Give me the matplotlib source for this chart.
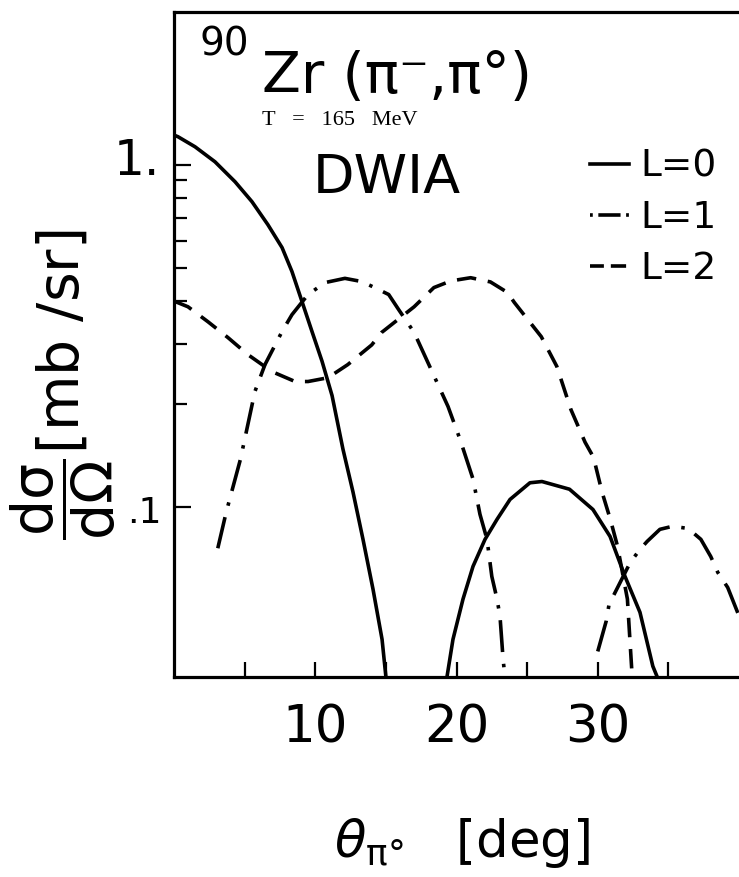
"""
plot.py

Redraw of an old DWIA figure: 90Zr(pi-,pi0) at T = 165 MeV,
angular distributions for L = 0, 1, 2 transfers (log scale).
"""

import matplotlib
matplotlib.use('Agg')
import matplotlib.pyplot as plt
from matplotlib.lines import Line2D
from matplotlib.ticker import FixedLocator, NullFormatter
from matplotlib.transforms import offset_copy

# values: angle [deg] and dsigma/dOmega [mb/sr]
l0_ang_1 = [0.0, 0.28, 1.49, 2.90, 4.32, 5.52, 6.65, 7.65, 8.35, 9.06, 9.77, 10.48,
            11.19, 11.96, 12.67, 13.38, 14.09, 14.73, 15.0, 15.2]
l0_xs_1 = [1.22, 1.207, 1.128, 1.02, 0.892, 0.780, 0.668, 0.573, 0.488, 0.399, 0.326,
           0.267, 0.212, 0.148, 0.111, 0.0807, 0.0577, 0.0412, 0.0321, 0.028]

l0_ang_2 = [19.2, 19.33, 19.75, 20.46, 21.17, 22.02, 22.87, 23.79, 25.2, 26.05, 28.0,
            29.66, 30.87, 31.93, 32.99, 33.9, 34.2, 34.35]
l0_xs_2 = [0.028, 0.0321, 0.0412, 0.054, 0.0673, 0.0807, 0.0923, 0.1055, 0.118, 0.119,
           0.113, 0.0986, 0.0823, 0.0629, 0.0494, 0.0344, 0.0321, 0.029]

l1_ang_1 = [3.1, 3.7, 4.7, 5.73, 6.44, 7.65, 8.35, 9.49, 10.7, 12.1, 13.3, 14.2, 15.2,
            15.9, 17.0, 18.1, 19.4, 20.25, 21.17, 21.66, 22.16, 22.5, 22.87, 23.08,
            23.3, 23.43, 23.5]
l1_xs_1 = [0.076, 0.097, 0.138, 0.218, 0.261, 0.326, 0.365, 0.418, 0.453, 0.466, 0.456,
           0.438, 0.418, 0.378, 0.324, 0.258, 0.197, 0.158, 0.121, 0.0955, 0.0807,
           0.0629, 0.054, 0.0481, 0.036, 0.032, 0.029]

l1_ang_2 = [30.0, 30.6, 30.8, 32.3, 33.0, 33.5, 34.4, 35.3, 36.4, 37.3, 38.0, 38.5,
            39.2, 39.9, 40.3]
l1_xs_2 = [0.038, 0.0466, 0.0521, 0.0691, 0.0755, 0.0796, 0.0863, 0.0881, 0.0868,
           0.0807, 0.0719, 0.0646, 0.0584, 0.0494, 0.045]

l2_ang = [0.0, 0.99, 2.41, 3.82, 5.24, 6.94, 8.57, 9.49, 10.9, 12.3, 14.0, 14.7, 17.0,
          18.4, 19.6, 21.0, 22.4, 23.6, 24.1, 26.0, 27.1, 28.1, 29.1, 29.7, 30.3, 30.9,
          31.4, 32.1, 32.4, 32.5]
l2_xs = [0.40, 0.385, 0.348, 0.313, 0.279, 0.249, 0.233, 0.233, 0.239, 0.261, 0.298,
         0.324, 0.385, 0.438, 0.458, 0.468, 0.455, 0.424, 0.396, 0.315, 0.258, 0.193,
         0.155, 0.14, 0.111, 0.092, 0.077, 0.054, 0.034, 0.028]

x_ticks = [5, 10, 15, 20, 25, 30, 35]
x_tick_labels = ['', '10', '', '20', '', '30', '']
y_major = [0.1, 1.0]
y_minor = [0.2, 0.3, 0.4, 0.5, 0.6, 0.7, 0.8, 0.9]
legend_labels = ['L=0', 'L=1', 'L=2']

plt.rcParams['lines.scale_dashes'] = False
plt.rcParams['font.family'] = ['DejaVu Sans']
plt.rcParams['mathtext.fontset'] = 'dejavusans'

W, H = 739, 877  # pixels


def fx(x):
    return x / W


def fy(y):
    # pixel row from top -> figure fraction
    return 1 - y / H


solid = '-'
dashdot = (0, (23, 8.5, 2.5, 8.5))
dashed = (0, (14, 8.5))
lw = 2.6

fig = plt.figure(figsize=(W / 100, H / 100), dpi=100)
ax = fig.add_axes([fx(174), fy(677), fx(565), 665 / H])

ax.plot(l0_ang_1, l0_xs_1, color='black', lw=lw, ls=solid)
ax.plot(l0_ang_2, l0_xs_2, color='black', lw=lw, ls=solid)
ax.plot(l1_ang_1, l1_xs_1, color='black', lw=lw, ls=dashdot)
ax.plot(l1_ang_2, l1_xs_2, color='black', lw=lw, ls=dashdot)
ax.plot(l2_ang, l2_xs, color='black', lw=lw, ls=dashed)

ax.set_yscale('log')
ax.set_xlim(0, 40)
ax.set_ylim(0.032, 2.79)

# axes frame: right side is cut off in the scan
ax.spines['right'].set_visible(False)
for s in ['left', 'bottom', 'top']:
    ax.spines[s].set_linewidth(2.3)

ax.set_xticks(x_ticks, labels=x_tick_labels, fontsize=37)
ax.tick_params(axis='x', direction='in', length=11, width=1.6, pad=19, top=False)

ax.yaxis.set_major_locator(FixedLocator(y_major))
ax.yaxis.set_minor_locator(FixedLocator(y_minor))
ax.yaxis.set_major_formatter(NullFormatter())
ax.yaxis.set_minor_formatter(NullFormatter())
ax.tick_params(axis='y', which='major', direction='in', length=12, width=1.6)
ax.tick_params(axis='y', which='minor', direction='in', length=9.5, width=1.6)

# the two decade labels are hand lettered, "1." sits a little above its tick
ytrans = ax.get_yaxis_transform()
ax.text(-0.025, 1.0, '1.', transform=offset_copy(ytrans, fig=fig, y=-10, units='dots'),
        ha='right', va='baseline', fontsize=35)
ax.text(-0.022, 0.1, '.1', transform=offset_copy(ytrans, fig=fig, y=-16, units='dots'),
        ha='right', va='baseline', fontsize=26)

# legend drawn with proxy handles, styled like the hand-drawn keys
handles = [Line2D([], [], color='black', lw=lw, ls=solid),
           Line2D([], [], color='black', lw=lw, ls=(0, (2, 4, 16, 4, 2, 100))),
           Line2D([], [], color='black', lw=lw, ls=(0, (10, 5, 11, 100)))]
ax.legend(handles, legend_labels, loc='upper left', bbox_to_anchor=(0.736, 0.794),
          frameon=False, fontsize=27, handlelength=1.05, handletextpad=0.3,
          labelspacing=0.4, borderpad=0, borderaxespad=0)

# header texts
fig.text(fx(200), fy(55), '90', fontsize=28, va='baseline')
fig.text(fx(262), fy(93), 'Zr (π⁻,π°)', fontsize=41, va='baseline')
fig.text(fx(262), fy(125), 'T   =   165   MeV', family=['Liberation Serif', 'DejaVu Serif'],
         fontsize=16, va='baseline')
fig.text(fx(313), fy(193), 'DWIA', fontsize=39, va='baseline')

# axis titles
fig.text(fx(63), fy(385), r'$\dfrac{\mathrm{d\sigma}}{\mathrm{d\Omega}}$[mb /sr]',
         rotation=90, ha='center', va='center', fontsize=41)
fig.text(fx(462), fy(857), r'$\theta_{\mathrm{\pi°}}$   [deg]', ha='center',
         va='baseline', fontsize=37)

fig.savefig('out.png', dpi=100)
